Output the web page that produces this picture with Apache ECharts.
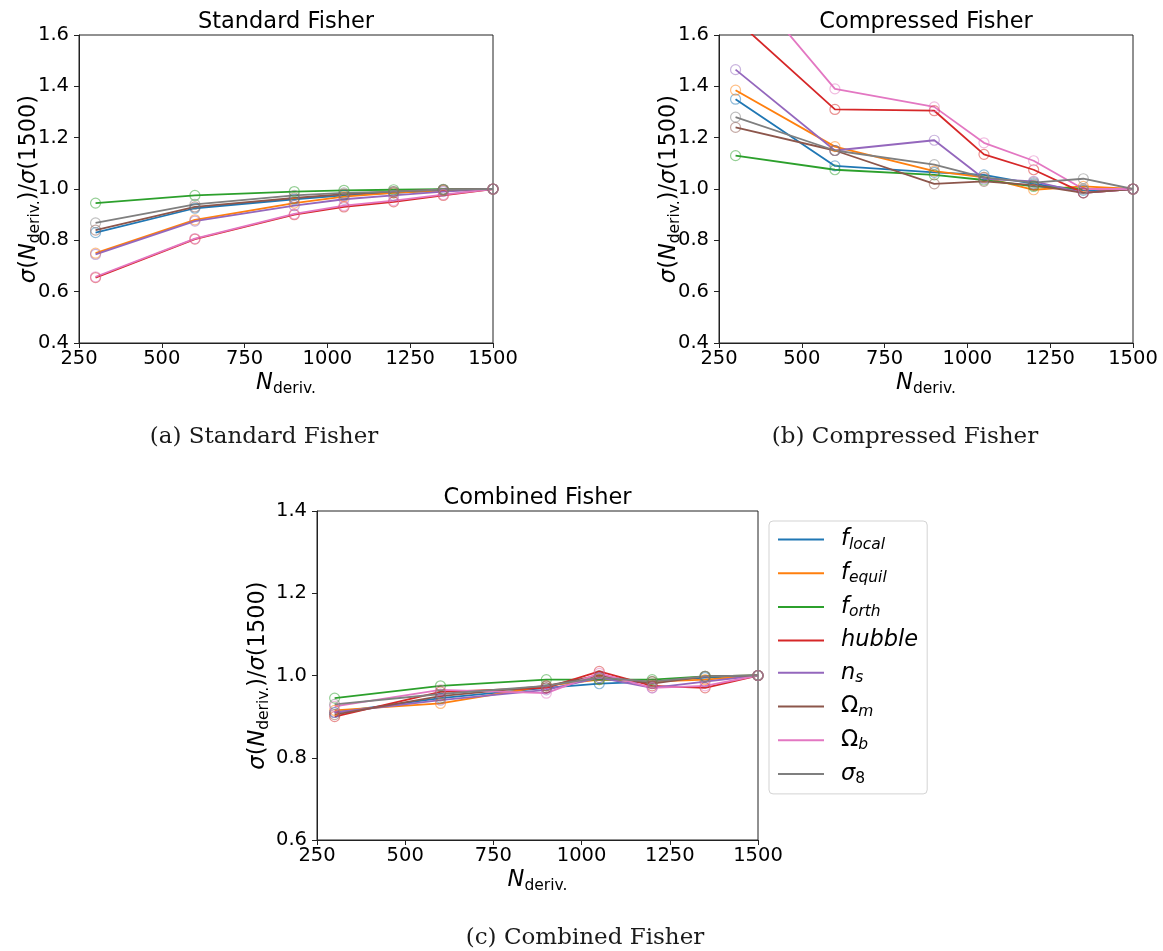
<!DOCTYPE html>
<html>
<head>
<meta charset="utf-8">
<script src="https://cdn.jsdelivr.net/npm/echarts@6/dist/echarts.min.js"></script>
<style>
  html, body { margin: 0; padding: 0; background: #ffffff; }
  #chart { width: 1163px; height: 951px; }
</style>
</head>
<body>
<div id="chart"></div>
<script>
// Number of simulations used for the derivatives
const nDeriv = [300, 600, 900, 1050, 1200, 1350, 1500];

// Parameter names (series order) and their colours
const params = ['f_local', 'f_equil', 'f_orth', 'hubble', 'n_s', 'Omega_m', 'Omega_b', 'sigma_8'];
const paramColors = ['#1f77b4', '#ff7f0e', '#2ca02c', '#d62728', '#9467bd', '#8c564b', '#e377c2', '#7f7f7f'];

// sigma(N_deriv) / sigma(1500) -- standard Fisher
const stdFLocal = [0.83, 0.925, 0.96, 0.975, 0.985, 0.995, 1.0];
const stdFEquil = [0.75, 0.88, 0.945, 0.97, 0.985, 0.995, 1.0];
const stdFOrth  = [0.945, 0.975, 0.99, 0.995, 0.997, 0.999, 1.0];
const stdHubble = [0.655, 0.805, 0.90, 0.93, 0.95, 0.975, 1.0];
const stdNs     = [0.745, 0.875, 0.935, 0.96, 0.975, 0.99, 1.0];
const stdOmegaM = [0.84, 0.93, 0.965, 0.98, 0.99, 0.998, 1.0];
const stdOmegaB = [0.658, 0.807, 0.903, 0.935, 0.955, 0.978, 1.0];
const stdSigma8 = [0.868, 0.94, 0.975, 0.985, 0.99, 0.998, 1.0];

// sigma(N_deriv) / sigma(1500) -- compressed Fisher
const cmpFLocal = [1.35, 1.09, 1.065, 1.055, 1.02, 0.995, 1.0];
const cmpFEquil = [1.385, 1.165, 1.07, 1.045, 0.997, 1.01, 1.0];
const cmpFOrth  = [1.13, 1.075, 1.055, 1.035, 1.01, 1.0, 1.0];
const cmpHubble = [1.66, 1.31, 1.305, 1.135, 1.075, 0.985, 1.0];
const cmpNs     = [1.465, 1.15, 1.19, 1.04, 1.03, 0.985, 1.0];
const cmpOmegaM = [1.24, 1.15, 1.02, 1.03, 1.015, 0.985, 1.0];
const cmpOmegaB = [1.85, 1.39, 1.32, 1.18, 1.11, 1.0, 1.0];
const cmpSigma8 = [1.28, 1.15, 1.095, 1.045, 1.025, 1.04, 1.0];

// sigma(N_deriv) / sigma(1500) -- combined Fisher
const comFLocal = [0.91, 0.945, 0.97, 0.98, 0.985, 0.995, 1.0];
const comFEquil = [0.915, 0.932, 0.975, 0.99, 0.985, 0.99, 1.0];
const comFOrth  = [0.945, 0.975, 0.99, 0.99, 0.99, 0.998, 1.0];
const comHubble = [0.90, 0.96, 0.97, 1.01, 0.975, 0.97, 1.0];
const comNs     = [0.91, 0.94, 0.965, 0.995, 0.97, 0.985, 1.0];
const comOmegaM = [0.905, 0.95, 0.975, 1.0, 0.98, 0.998, 1.0];
const comOmegaB = [0.925, 0.965, 0.957, 1.005, 0.97, 0.975, 1.0];
const comSigma8 = [0.93, 0.955, 0.975, 0.995, 0.985, 0.998, 1.0];

const FONT = 'DejaVu Sans';
const SERIF = 'DejaVu Serif';

// Legend labels with math-style subscripts
const legendLabels = {
  f_local: '{i|f}{is|local}',
  f_equil: '{i|f}{is|equil}',
  f_orth: '{i|f}{is|orth}',
  hubble: '{i|hubble}',
  n_s: '{i|n}{is|s}',
  Omega_m: '{n|Ω}{is|m}',
  Omega_b: '{n|Ω}{is|b}',
  sigma_8: '{i|σ}{ns|8}'
};

const panels = [
  {
    title: 'Standard Fisher', caption: '(a) Standard Fisher',
    grid: { left: 79, top: 35, width: 414, height: 308 },
    yMin: 0.4, yMax: 1.6, yNameGap: 36, captionX: 264, captionY: 437,
    rows: [stdFLocal, stdFEquil, stdFOrth, stdHubble, stdNs, stdOmegaM, stdOmegaB, stdSigma8]
  },
  {
    title: 'Compressed Fisher', caption: '(b) Compressed Fisher',
    grid: { left: 719, top: 35, width: 414, height: 308 },
    yMin: 0.4, yMax: 1.6, yNameGap: 36, captionX: 905, captionY: 437,
    rows: [cmpFLocal, cmpFEquil, cmpFOrth, cmpHubble, cmpNs, cmpOmegaM, cmpOmegaB, cmpSigma8]
  },
  {
    title: 'Combined Fisher', caption: '(c) Combined Fisher',
    grid: { left: 317, top: 511, width: 441, height: 329 },
    yMin: 0.6, yMax: 1.4, yNameGap: 45, captionX: 585, captionY: 938,
    rows: [comFLocal, comFEquil, comFOrth, comHubble, comNs, comOmegaM, comOmegaB, comSigma8]
  }
];

function hexAlpha(hex, a) {
  const n = parseInt(hex.slice(1), 16);
  return 'rgba(' + ((n >> 16) & 255) + ',' + ((n >> 8) & 255) + ',' + (n & 255) + ',' + a + ')';
}

const mathRich = {
  i: { fontFamily: FONT, fontStyle: 'italic', fontSize: 22.5, lineHeight: 28, color: '#000' },
  n: { fontFamily: FONT, fontSize: 22.5, lineHeight: 28, color: '#000' },
  s: { fontFamily: FONT, fontSize: 15.5, lineHeight: 14, verticalAlign: 'bottom', color: '#000' }
};

const grids = [], xAxes = [], yAxes = [], series = [], graphics = [];

panels.forEach((p, k) => {
  grids.push(Object.assign({ show: true, borderColor: '#222', borderWidth: 1, backgroundColor: 'transparent' }, p.grid));
  xAxes.push({
    type: 'value', gridIndex: k, min: 250, max: 1500, interval: 250,
    axisLine: { show: true, onZero: false, lineStyle: { color: '#222', width: 1 } },
    axisTick: { show: true, inside: false, length: 5, lineStyle: { color: '#222' } },
    axisLabel: { fontFamily: FONT, fontSize: 19.5, color: '#000', margin: 6, formatter: v => String(v), showMinLabel: true, showMaxLabel: true, hideOverlap: false },
    splitLine: { show: false },
    name: '{i|N}{s|deriv.}', nameLocation: 'middle', nameGap: 26,
    nameTextStyle: { rich: mathRich }
  });
  yAxes.push({
    type: 'value', gridIndex: k, min: p.yMin, max: p.yMax, interval: 0.2,
    axisLine: { show: true, onZero: false, lineStyle: { color: '#222', width: 1 } },
    axisTick: { show: true, inside: false, length: 5, lineStyle: { color: '#222' } },
    axisLabel: { fontFamily: FONT, fontSize: 19.5, color: '#000', margin: 10, formatter: v => v.toFixed(1), showMinLabel: true, showMaxLabel: true },
    splitLine: { show: false },
    name: '{i|σ}{n|(}{i|N}{s|deriv.}{n|)/}{i|σ}{n|(1500)}',
    nameLocation: 'middle', nameRotate: 90, nameGap: p.yNameGap, nameMoveOverlap: false,
    nameTextStyle: { rich: mathRich }
  });
  params.forEach((name, j) => {
    series.push({
      name: name, type: 'line', xAxisIndex: k, yAxisIndex: k,
      data: nDeriv.map((n, t) => [n, p.rows[j][t]]),
      symbol: 'circle', symbolSize: 10, clip: true,
      lineStyle: { color: paramColors[j], width: 1.8 },
      itemStyle: { color: 'rgba(0,0,0,0)', borderColor: hexAlpha(paramColors[j], 0.5), borderWidth: 1.2 },
      emphasis: { disabled: true },
      animation: false
    });
  });
  graphics.push({
    type: 'text',
    x: p.grid.left + p.grid.width / 2, y: p.grid.top - 13,
    style: { text: p.title, fontFamily: FONT, fontSize: 22.5, fill: '#000', align: 'center', verticalAlign: 'middle' }
  });
  graphics.push({
    type: 'text',
    x: p.captionX, y: p.captionY,
    style: { text: p.caption, fontFamily: SERIF, fontSize: 23, fill: '#1a1a1a', align: 'center', verticalAlign: 'middle' }
  });
});

const chart = echarts.init(document.getElementById('chart'), null, { renderer: 'canvas' });
chart.setOption({
  animation: false,
  backgroundColor: '#ffffff',
  grid: grids,
  xAxis: xAxes,
  yAxis: yAxes,
  series: series,
  graphic: graphics,
  legend: {
    orient: 'vertical', left: 769, top: 521,
    padding: [7, 9, 7, 9], itemGap: 9.2,
    itemWidth: 46, itemHeight: 2,
    backgroundColor: 'rgba(255,255,255,0.8)', borderColor: '#d3d3d3', borderWidth: 1, borderRadius: 4,
    selectedMode: false,
    data: params.map((name, j) => ({
      name: name, icon: 'rect',
      itemStyle: { color: paramColors[j], borderWidth: 0, opacity: 1 }
    })),
    formatter: name => legendLabels[name],
    textStyle: {
      padding: [0, 0, 0, 12],
      rich: {
        i: { fontFamily: FONT, fontStyle: 'italic', fontSize: 22.5, lineHeight: 26, color: '#000' },
        n: { fontFamily: FONT, fontSize: 22.5, lineHeight: 26, color: '#000' },
        is: { fontFamily: FONT, fontStyle: 'italic', fontSize: 15.5, lineHeight: 12, verticalAlign: 'bottom', color: '#000' },
        ns: { fontFamily: FONT, fontSize: 15.5, lineHeight: 12, verticalAlign: 'bottom', color: '#000' }
      }
    }
  }
});
</script>
</body>
</html>
